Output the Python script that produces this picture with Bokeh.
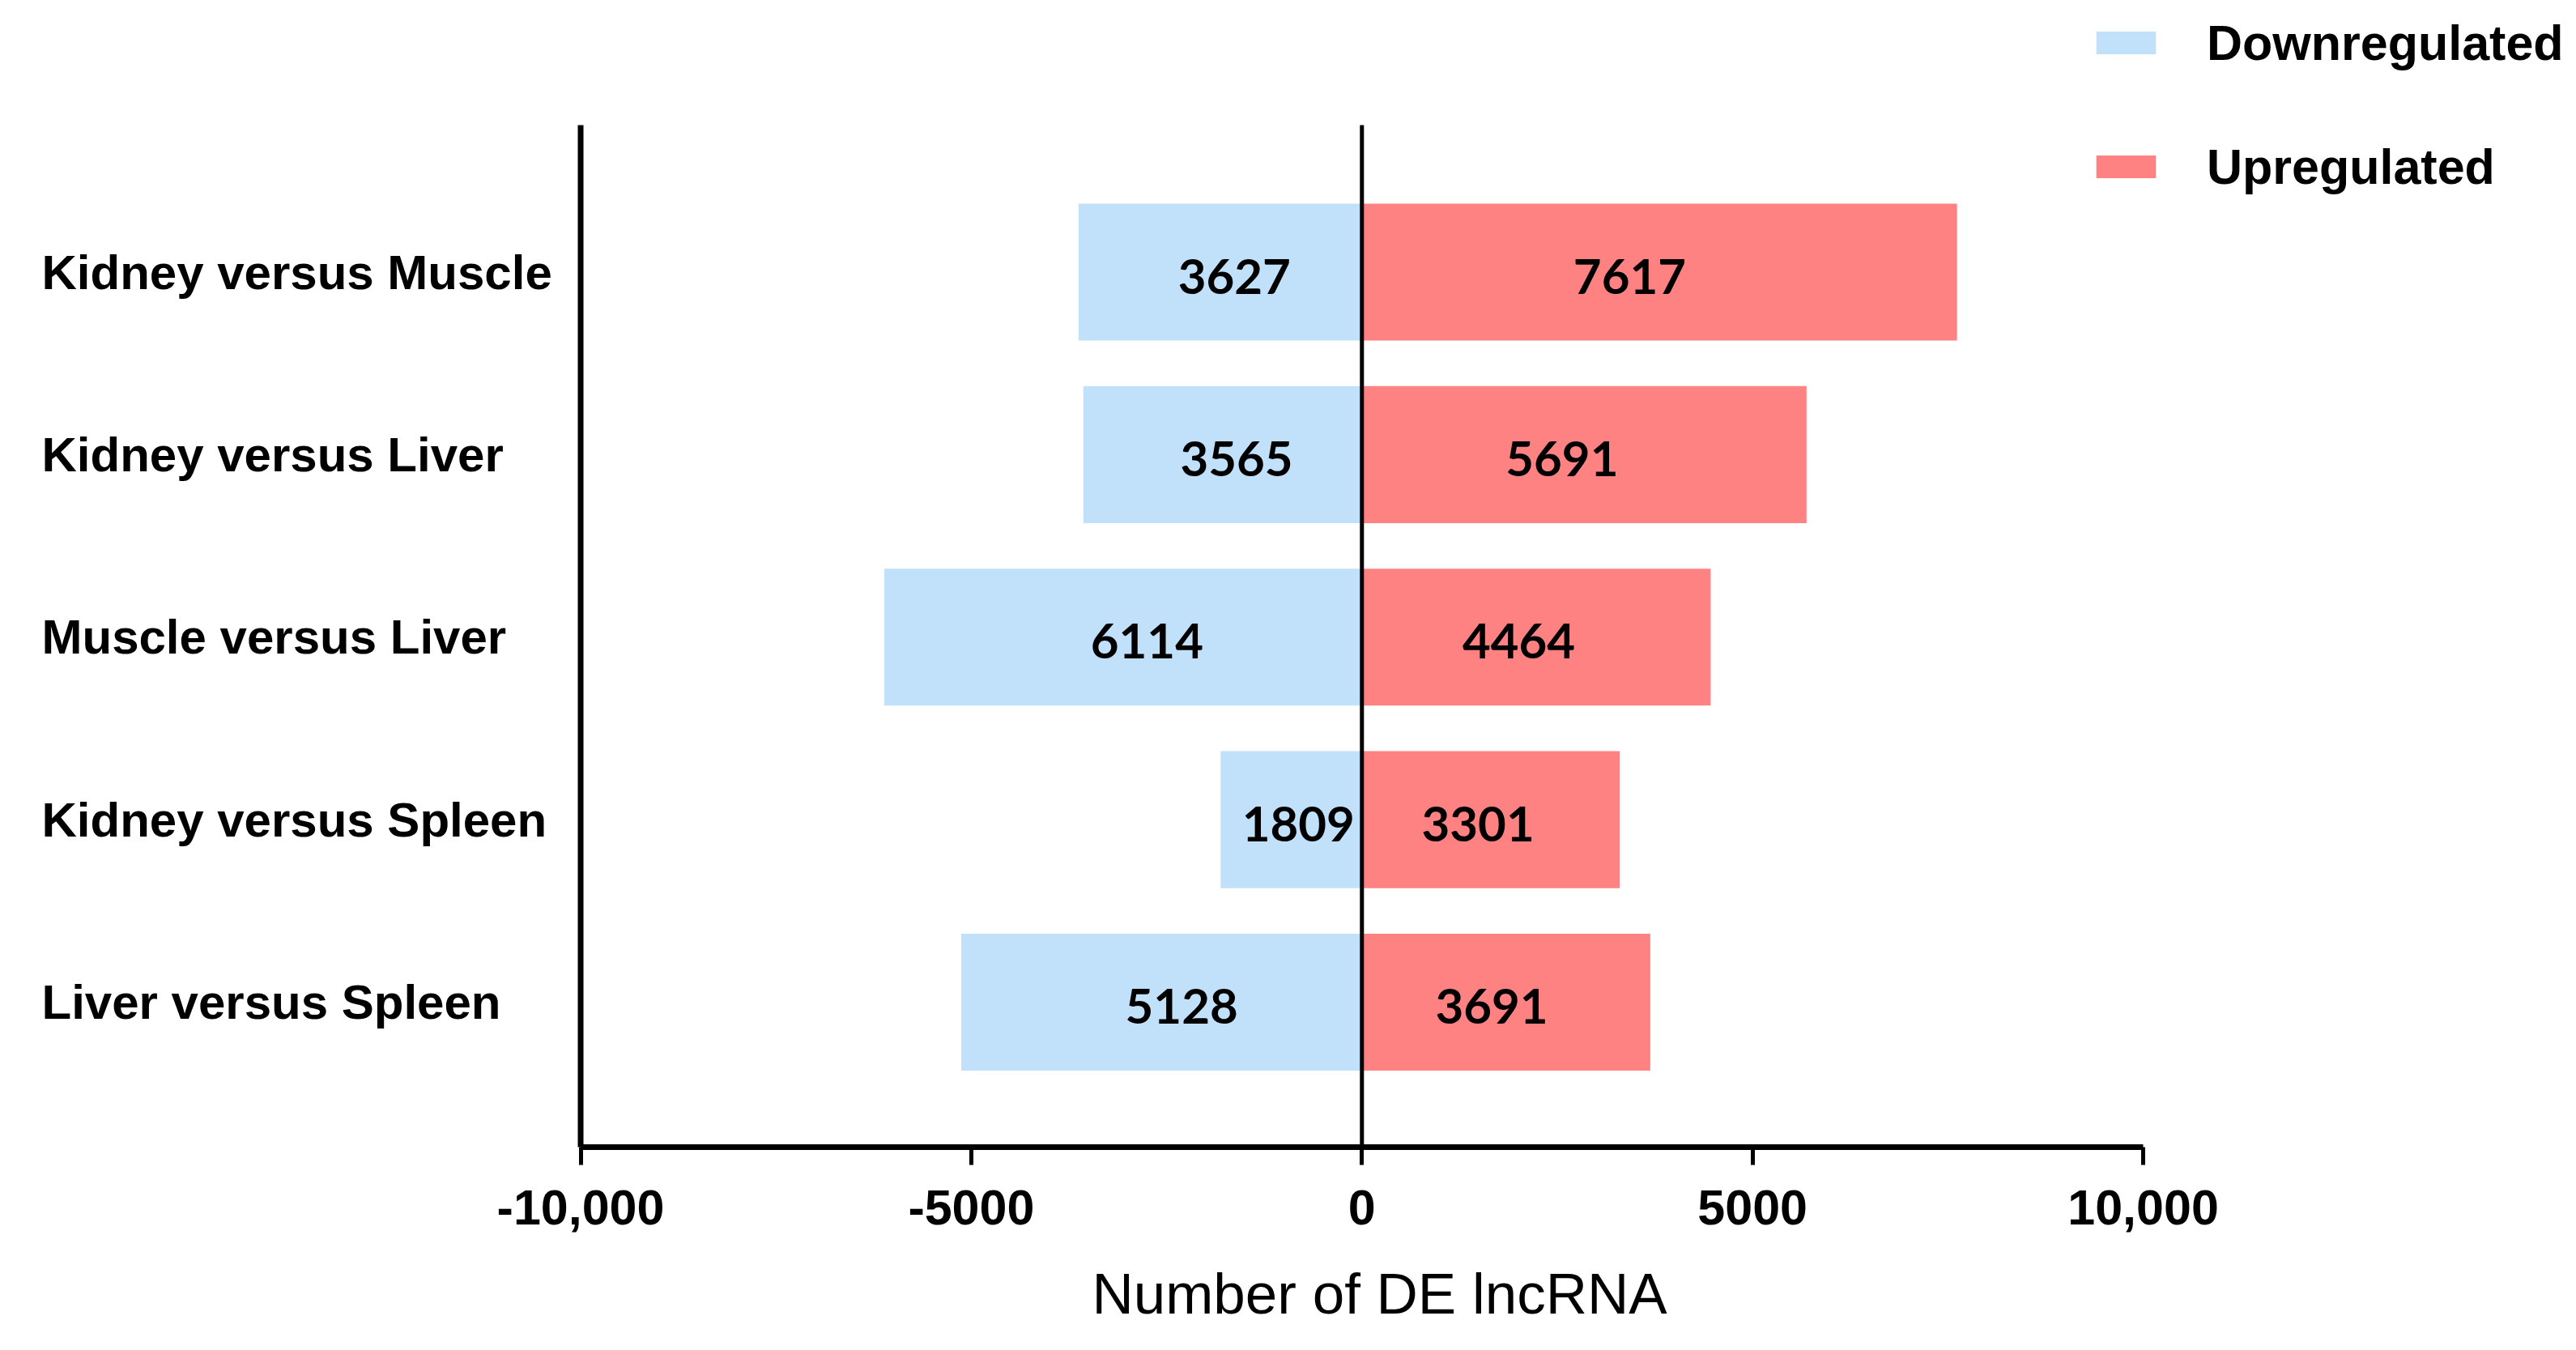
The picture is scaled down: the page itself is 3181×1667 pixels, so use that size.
from bokeh.plotting import figure
from bokeh.models import (ColumnDataSource, Range1d, FixedTicker, LabelSet, Label,
                          Legend, LegendItem)
from bokeh.core.properties import value
from bokeh.embed import file_html
from bokeh.resources import INLINE

# ---------------- data ----------------
categories = ["Kidney versus Muscle", "Kidney versus Liver", "Muscle versus Liver",
              "Kidney versus Spleen", "Liver versus Spleen"]
downregulated = [3627, 3565, 6114, 1809, 5128]
upregulated = [7617, 5691, 4464, 3301, 3691]
tick_values = [-10000, -5000, 0, 5000, 10000]
tick_labels = ["-10,000", "-5000", "0", "5000", "10,000"]
x_title = "Number of DE lncRNA"

n = len(categories)
ypos = [n - 1 - i for i in range(n)]          # first category at the top
neg_down = [-v for v in downregulated]

BLUE = "#C1E0FA"
RED = "#FF8282"
FONT = "Liberation Sans"

# layout: the frame covers the whole canvas; the x axis sits at a fixed location
Y_START, Y_END = -1.8724, 5.4887
AXIS_Y = -0.7942
AXIS_TOP = 4.805

p = figure(width=3175, height=1659,
           x_range=Range1d(-17427, 15483), y_range=Range1d(Y_START, Y_END),
           output_backend="svg", toolbar_location=None, y_axis_location=None,
           min_border_left=0, min_border_right=0,
           min_border_top=0, min_border_bottom=0)
p.outline_line_color = None
p.xgrid.visible = False
p.ygrid.visible = False
p.background_fill_color = "white"
p.border_fill_color = "white"

src = ColumnDataSource(dict(y=ypos, cat=categories, down=downregulated, up=upregulated,
                            neg=neg_down,
                            down_lx=[-0.45 * v for v in downregulated],
                            up_lx=[0.45 * v for v in upregulated],
                            down_t=[str(v) for v in downregulated],
                            up_t=[str(v) for v in upregulated]))

r_down = p.hbar(y="y", left="neg", right=0, height=0.75, source=src,
                fill_color=BLUE, line_color=None)
r_up = p.hbar(y="y", left=0, right="up", height=0.75, source=src,
              fill_color=RED, line_color=None)

# value labels
for col, txt in (("down_lx", "down_t"), ("up_lx", "up_t")):
    p.text(x=col, y="y", text=txt, source=src, text_align="center",
           text_baseline="middle", text_font=value("Lato"), y_offset=5,
           text_font_style="bold", text_font_size="60px", text_color="black")

# left axis line (at the range minimum) and zero line
p.segment(x0=[tick_values[0]], x1=[tick_values[0]], y0=[AXIS_Y], y1=[AXIS_TOP],
          line_color="black", line_width=7)
p.segment(x0=[0], x1=[0], y0=[AXIS_Y], y1=[AXIS_TOP],
          line_color="black", line_width=5)

# x axis
xa = p.xaxis[0]
xa.fixed_location = AXIS_Y
xa.bounds = (tick_values[0], tick_values[-1])
xa.ticker = FixedTicker(ticks=tick_values)
xa.major_label_overrides = dict(zip(tick_values, tick_labels))
xa.axis_line_width = 7
xa.axis_line_color = "black"
xa.major_tick_line_width = 5
xa.major_tick_line_color = "black"
xa.major_tick_out = 22
xa.major_tick_in = 0
xa.minor_tick_line_color = None
xa.major_label_text_font = FONT
xa.major_label_text_font_style = "bold"
xa.major_label_text_font_size = "61px"
xa.major_label_text_color = "black"
xa.major_label_standoff = 31

# axis title, centred like the reference
p.add_layout(Label(x=1703, y=62, x_units="screen", y_units="screen", text=x_title,
                   text_align="center", text_baseline="alphabetic",
                   text_font=FONT, text_font_style="normal",
                   text_font_size="71px", text_color="black"))

# category labels, left aligned
p.add_layout(LabelSet(x=51, y="y", text="cat", source=src, x_units="screen",
                      y_units="data", text_align="left", text_baseline="middle",
                      text_font=value(FONT), text_font_style="bold",
                      text_font_size="60px", text_color="black"))

legend = Legend(items=[LegendItem(label="Downregulated", renderers=[r_down]),
                       LegendItem(label="Upregulated", renderers=[r_up])],
                location=(2579, 1411), orientation="vertical",
                glyph_width=92, glyph_height=35, label_height=85, spacing=68,
                label_standoff=54, padding=0, margin=0,
                border_line_color=None, background_fill_alpha=0,
                label_text_font=FONT, label_text_font_style="bold",
                label_text_font_size="61px", label_text_color="black")
p.add_layout(legend)

open("out.html", "w").write(file_html(p, INLINE))
